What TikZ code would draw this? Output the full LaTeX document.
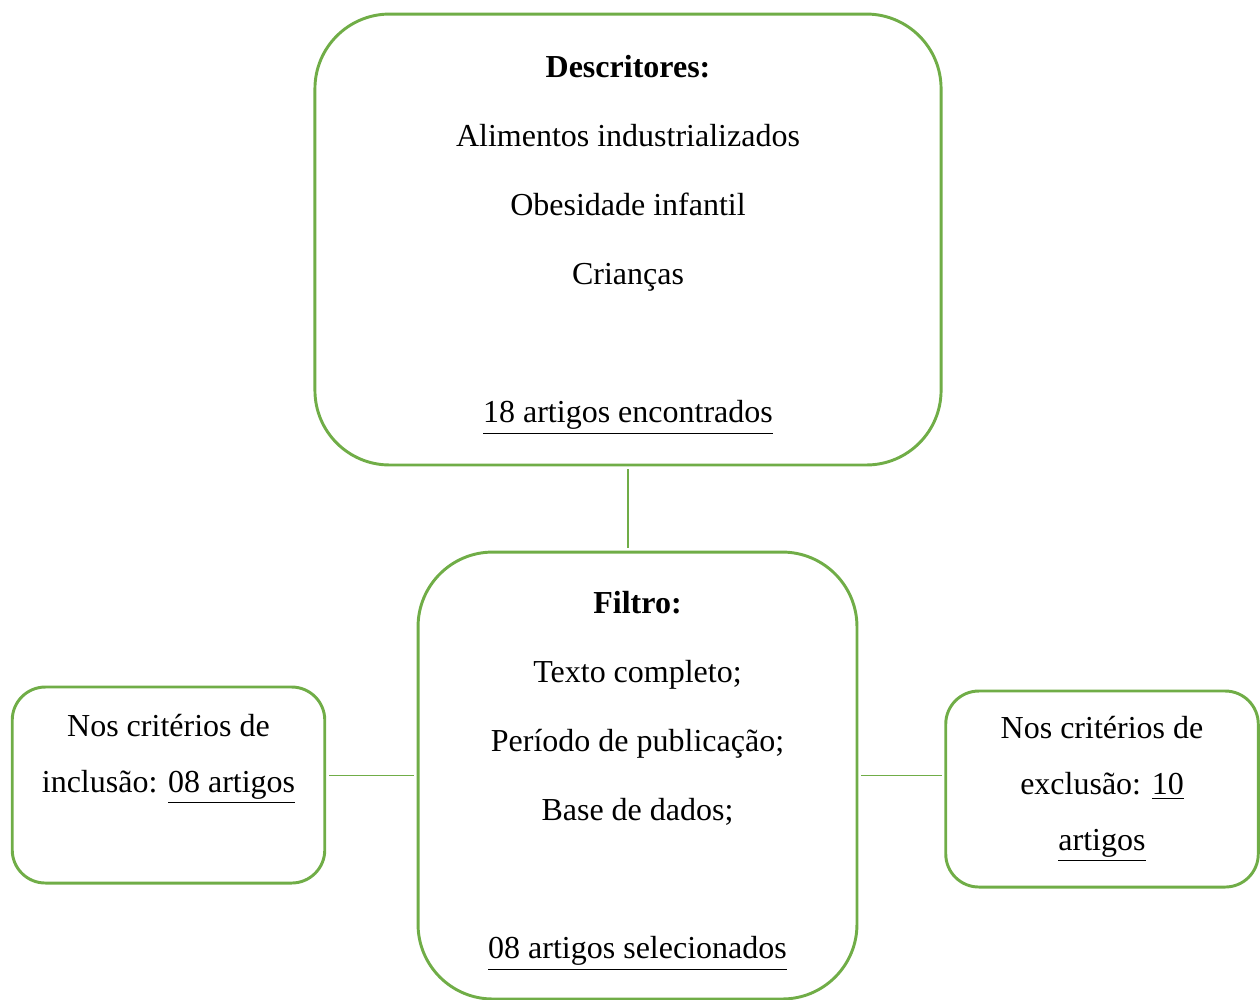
\documentclass[tikz,border=0pt]{standalone}
\usepackage{fontspec}
\setmainfont{Liberation Serif}
\definecolor{leafgreen}{HTML}{70AD47}

\begin{document}
\begin{tikzpicture}[x=0.375pt, y=-0.375pt,
	box/.style={draw=leafgreen, line width=1.1pt, align=center, inner sep=0pt, font=\fontsize{12}{25.9}\selectfont},
	bigbox/.style={box, rounded corners=28pt},
	sidebox/.style={box, rounded corners=12.4pt, minimum width=117.2pt, minimum height=73.5pt, font=\fontsize{12}{21}\selectfont},
	link/.style={draw=leafgreen, line width=0.7pt, shorten <=1pt, shorten >=1pt}]
\useasboundingbox (0,0) rectangle (1260,999);
\node[bigbox, minimum width=234.8pt, minimum height=169.1pt] (descr) at (628,239.5)
	{\rule{0pt}{12.5pt}\textbf{Descritores:}\\Alimentos industrializados\\Obesidade infantil\\Crianças\\~\\\underline{18 artigos encontrados}};
\node[bigbox, minimum width=164.6pt, minimum height=167.6pt] (filtro) at (637.5,775.5)
	{\rule{0pt}{12.5pt}\textbf{Filtro:}\\Texto completo;\\Período de publicação;\\Base de dados;\\~\\\underline{08 artigos selecionados}};
\node[sidebox] (incl) at (168.5,785) {Nos critérios de\\inclusão: \underline{08 artigos}\\~\rule[-3pt]{0pt}{0pt}};
\node[sidebox] (excl) at (1102,789) {Nos critérios de\\exclusão: \underline{10}\\\underline{artigos}};
\draw[link] (descr.south) -- (descr.south |- filtro.north);
\draw[link] (filtro.west) -- (filtro.west -| incl.east);
\draw[link] (filtro.east) -- (filtro.east -| excl.west);
\end{tikzpicture}
\end{document}
